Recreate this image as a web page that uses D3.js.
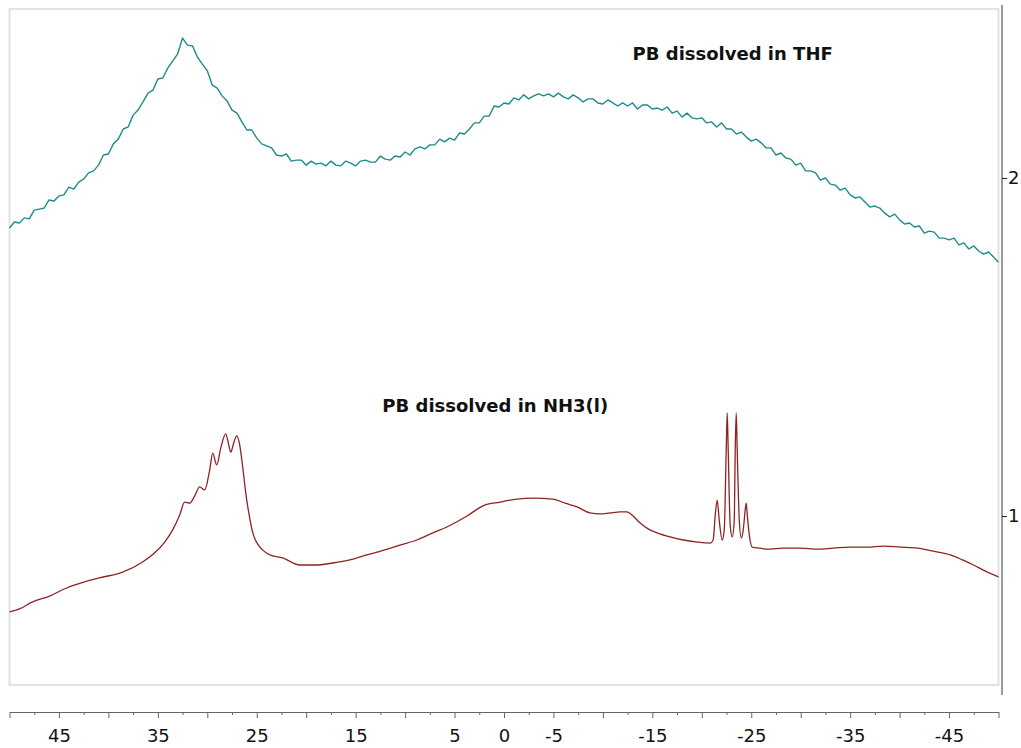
<!DOCTYPE html>
<html>
<head>
<meta charset="UTF-8">
<title>PB spectra</title>
<script src="https://d3js.org/d3.v7.min.js"></script>
<style>
  body { margin: 0; background: #fff; }
  .frame { fill: none; stroke: #e2e2e2; stroke-width: 2px; }
  .spec { fill: none; stroke-width: 1.4px; stroke-linejoin: round; }
  .thf { stroke: #1f8c8a; }
  .nh3 { stroke: #8e2323; stroke-width: 1.3px; }
  .lbl { font: bold 18px "DejaVu Sans", sans-serif; fill: #111; }
  .axis text { font: 18px "DejaVu Sans", sans-serif; fill: #111; }
  .xaxis path, .xaxis line { stroke: #666; }
  .yaxis line { stroke: #222; }
</style>
</head>
<body>
<div id="chart"></div>
<script>
// chemical shift grid of the THF trace (ppm), 0.5 ppm per point
const thfShift = d3.range(50, -50.25, -0.5);
const thfValue = [
  1.852,1.870,1.867,1.882,1.879,1.905,1.908,1.911,1.935,1.932,
  1.947,1.950,1.973,1.967,1.988,1.997,2.015,2.021,2.038,2.068,
  2.071,2.101,2.115,2.145,2.151,2.186,2.201,2.225,2.251,2.260,
  2.293,2.296,2.325,2.346,2.367,2.414,2.393,2.391,2.358,2.337,
  2.317,2.275,2.266,2.243,2.228,2.201,2.192,2.166,2.142,2.142,
  2.118,2.101,2.095,2.089,2.068,2.065,2.071,2.050,2.053,2.053,
  2.038,2.050,2.041,2.044,2.036,2.050,2.038,2.036,2.050,2.044,
  2.036,2.050,2.053,2.047,2.047,2.065,2.056,2.053,2.065,2.062,
  2.077,2.068,2.086,2.092,2.086,2.098,2.098,2.115,2.107,2.118,
  2.112,2.133,2.130,2.145,2.163,2.163,2.183,2.183,2.213,2.210,
  2.222,2.219,2.237,2.231,2.246,2.234,2.243,2.249,2.243,2.249,
  2.240,2.251,2.240,2.234,2.246,2.237,2.225,2.234,2.234,2.222,
  2.219,2.231,2.222,2.213,2.222,2.213,2.222,2.204,2.216,2.216,
  2.204,2.207,2.201,2.210,2.192,2.198,2.180,2.192,2.178,2.175,
  2.178,2.163,2.166,2.151,2.163,2.145,2.145,2.130,2.136,2.121,
  2.109,2.115,2.104,2.089,2.089,2.068,2.074,2.059,2.056,2.038,
  2.044,2.021,2.021,2.015,1.994,2.000,1.982,1.979,1.964,1.970,
  1.950,1.941,1.944,1.929,1.914,1.917,1.911,1.896,1.885,1.893,
  1.876,1.864,1.867,1.855,1.858,1.837,1.843,1.840,1.822,1.822,
  1.817,1.822,1.802,1.808,1.790,1.799,1.784,1.775,1.781,1.766,
  1.751
];

// NH3(l) trace, sampled more densely round the sharp multiplet
const nh3Shift = [
  50.00,48.99,47.67,45.95,44.23,42.41,40.89,38.56,36.54,35.32,
  34.31,33.50,32.79,32.29,31.78,31.28,30.77,30.26,29.76,29.45,
  29.05,28.64,28.14,27.83,27.63,27.33,27.02,26.72,26.42,26.21,
  26.01,25.71,25.40,24.90,24.39,23.68,22.37,20.65,19.13,17.31,
  15.59,13.87,12.15,10.53,8.81,7.19,5.47,3.74,2.13,0.40,
  -1.32,-2.94,-4.96,-6.17,-7.39,-8.70,-9.72,-10.73,-11.74,-12.45,
  -13.06,-13.77,-14.57,-15.49,-16.80,-18.12,-19.53,-20.85,-21.15,-21.36,
  -21.56,-21.76,-22.06,-22.27,-22.47,-22.57,-22.67,-22.87,-23.08,-23.28,
  -23.38,-23.48,-23.58,-23.79,-23.99,-24.19,-24.39,-24.49,-24.60,-24.80,
  -25.10,-25.91,-26.62,-28.24,-29.96,-31.68,-33.30,-35.02,-36.74,-38.36,
  -40.08,-41.80,-43.42,-45.14,-46.36,-47.47,-48.68,-50.00
];
const nh3Value = [
  0.716,0.725,0.746,0.763,0.787,0.805,0.817,0.834,0.864,0.891,
  0.923,0.959,1.003,1.041,1.038,1.059,1.086,1.077,1.136,1.186,
  1.151,1.201,1.243,1.210,1.189,1.216,1.237,1.210,1.145,1.092,
  1.047,0.994,0.950,0.917,0.899,0.885,0.876,0.855,0.855,0.861,
  0.870,0.885,0.899,0.914,0.929,0.950,0.972,1.000,1.030,1.041,
  1.050,1.053,1.050,1.038,1.027,1.009,1.006,1.009,1.012,1.012,
  1.000,0.979,0.962,0.950,0.938,0.929,0.923,0.920,0.929,1.003,
  1.047,0.988,0.929,0.959,1.195,1.305,1.195,0.973,0.938,0.988,
  1.195,1.305,1.195,0.988,0.935,0.959,1.018,1.038,1.003,0.944,
  0.908,0.905,0.902,0.905,0.905,0.902,0.905,0.908,0.908,0.911,
  0.908,0.905,0.896,0.885,0.870,0.855,0.837,0.820
];

const xMajorTicks = [50,45,40,35,30,25,20,15,10,5,0,-5,-10,-15,-20,-25,-30,-35,-40,-45,-50];
const xMinorTicks = [47.5,42.5,37.5,32.5,27.5,22.5,17.5,12.5,7.5,2.5,-2.5,-7.5,-12.5,-17.5,-22.5,-27.5,-32.5,-37.5,-42.5,-47.5];
const xTickLabels = [45,35,25,15,5,0,-5,-15,-25,-35,-45];
const yTickLabels = [1,2];

const labelText = ["PB dissolved in THF", "PB dissolved in NH3(l)"];
const labelShift = [-13.0, 12.3];
const labelValue = [2.349, 1.308];

const width = 1021, height = 748;
const plot = {left: 9.5, right: 998.5, top: 9, bottom: 685};

const svg = d3.select("#chart").append("svg")
    .attr("width", width)
    .attr("height", height);

const x = d3.scaleLinear().domain([50, -50]).range([plot.left, plot.right]);
const y = d3.scaleLinear().domain([0.5, 2.5]).range([plot.bottom, plot.top]);

// light frame round the plot area
svg.append("rect")
    .attr("class", "frame")
    .attr("x", plot.left)
    .attr("y", plot.top)
    .attr("width", plot.right - plot.left)
    .attr("height", plot.bottom - plot.top);

const line = d3.line()
    .x(d => x(d[0]))
    .y(d => y(d[1]));

svg.append("path")
    .attr("class", "spec thf")
    .attr("d", line(d3.zip(thfShift, thfValue)));

svg.append("path")
    .attr("class", "spec nh3")
    .attr("d", line.curve(d3.curveMonotoneX)(d3.zip(nh3Shift, nh3Value)));

labelText.forEach((t, i) => {
    svg.append("text")
        .attr("class", "lbl")
        .attr("x", x(labelShift[i]))
        .attr("y", y(labelValue[i]))
        .text(t);
});

// plain hyphen for negatives, like the original
const fmt = d => String(d);

// bottom ppm axis
const axisY = 712;
svg.append("g")
    .attr("class", "axis xaxis")
    .attr("transform", `translate(0,${axisY})`)
    .call(d3.axisBottom(x).tickValues(xMinorTicks).tickSize(3).tickSizeOuter(0).tickFormat(""));
svg.append("g")
    .attr("class", "axis xaxis")
    .attr("transform", `translate(0,${axisY})`)
    .call(d3.axisBottom(x).tickValues(xMajorTicks).tickSize(6).tickSizeOuter(0).tickFormat(""))
    .select(".domain").remove();
svg.append("g")
    .attr("class", "axis xaxis")
    .attr("transform", `translate(0,${axisY})`)
    .call(d3.axisBottom(x).tickValues(xTickLabels).tickSize(0).tickPadding(17).tickFormat(fmt))
    .call(g => g.select(".domain").remove());

// right intensity axis
const axisX = 1002;
svg.append("line")
    .attr("x1", axisX).attr("x2", axisX)
    .attr("y1", 5).attr("y2", 695)
    .attr("stroke", "#9a9a9a")
    .attr("stroke-width", 2);
svg.append("g")
    .attr("class", "axis yaxis")
    .attr("transform", `translate(${axisX},0)`)
    .call(d3.axisRight(y).tickValues(yTickLabels).tickSize(5).tickPadding(1).tickFormat(fmt))
    .call(g => g.select(".domain").remove());
</script>
</body>
</html>
